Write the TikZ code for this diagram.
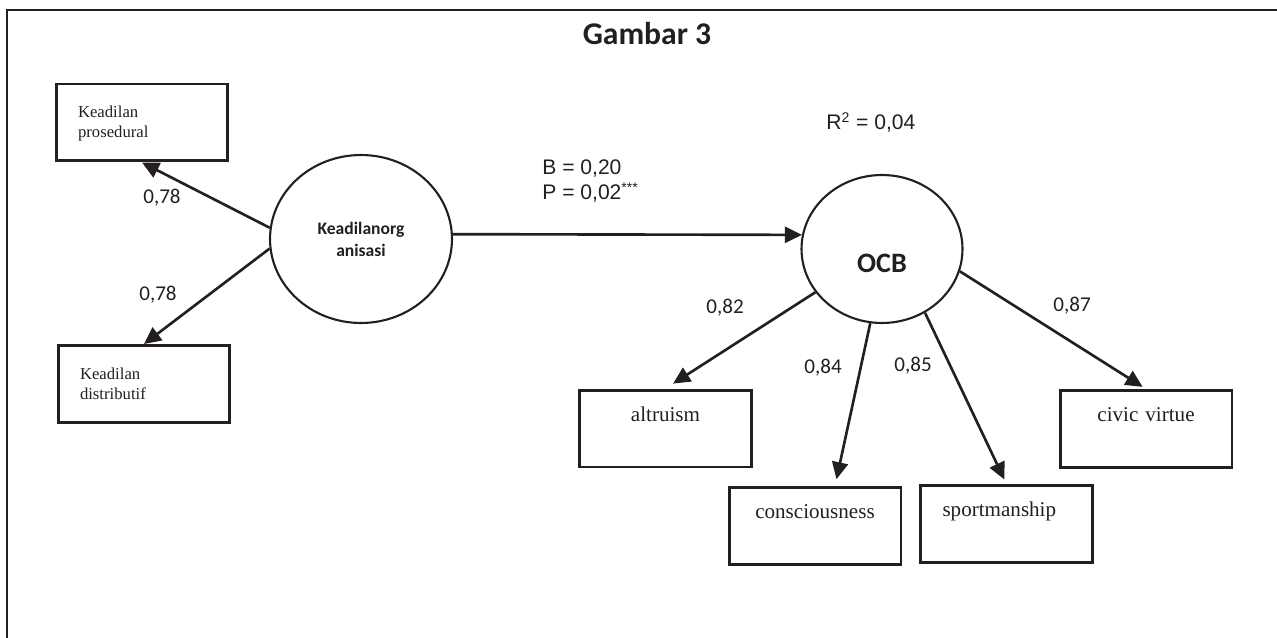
\documentclass[tikz,border=0pt]{standalone}
\usepackage{fontspec}
\setmainfont{Liberation Serif}
\setsansfont{Liberation Sans}
\newfontfamily\calibri{Carlito}
\usepackage{xcolor}
\usepackage{tikz}
\usetikzlibrary{arrows.meta,shapes.geometric}
\definecolor{ink}{HTML}{231F20}

\begin{document}
\begin{tikzpicture}[x=0.02cm, y=-0.02cm, color=ink,
    latent/.style={draw=ink, ellipse, line width=1.2pt, inner sep=0pt},
    indic/.style={draw=ink, rectangle, line width=1.7pt, inner sep=0pt,
      minimum width=3.44cm, text width=2.56cm, align=center,
      text height=0.62cm, text depth=0.92cm,
      font=\fontsize{12}{14}\selectfont},
    dimbox/.style={indic, align=left, text height=0.68cm, text depth=0.86cm,
      font=\fontsize{9.5}{11.3}\selectfont},
    coef/.style={inner sep=0pt, font=\calibri\fontsize{12}{14}\selectfont},
    stat/.style={inner sep=0pt, anchor=base west, font=\sffamily\fontsize{12}{13}\selectfont},
    arr/.style={line width=1.5pt, -{Triangle[length=0.34cm,width=0.32cm]}},
  ]
  \useasboundingbox (0,0) rectangle (1277,638);
  \draw[line width=1.7pt] (1277,10) -- (7,10) -- (7,638);

  \node[font=\calibri\bfseries\fontsize{18}{20}\selectfont] (title) at (647,34) {Gambar 3};

  % latent variables
  \node[latent, minimum width=3.64cm, minimum height=3.36cm, align=center,
    font=\calibri\bfseries\fontsize{10}{12.5}\selectfont] (kor) at (361,239) {Keadilanorg\\anisasi};
  \node[latent, minimum width=3.22cm, minimum height=2.96cm, text height=1.36cm, text depth=0.4cm,
    font=\calibri\bfseries\fontsize{16}{18}\selectfont] (ocb) at (882,249) {OCB};

  % indicators
  \node[dimbox] (pros) at (142,122.5) {Keadilan\\prosedural};
  \node[dimbox] (dist) at (144,384) {Keadilan\\distributif};
  \node[indic] (alt) at (665.5,428.5) {altruism};
  \node[indic] (cons) at (815,526) {consciousness};
  \node[indic, align=left] (sport) at (1006.5,524) {sportmanship};
  \node[indic] (civic) at (1146,429) {civic virtue};

  % paths
  \draw[arr] (kor.173) -- (pros.south);
  \draw[arr] (kor.186) -- (dist.north);
  \draw[arr] (kor.3) -- (ocb.170);
  \draw[arr, shorten >=0.18cm] (ocb.213) -- (alt.north);
  \draw[arr, shorten >=0.14cm] (ocb.261) -- ([xshift=0.4cm]cons.north);
  \draw[arr, shorten >=0.1cm] (ocb.304) -- (sport.north);
  \draw[arr, shorten >=0.08cm] (ocb.344) -- (civic.north);

  % loadings
  \node[coef] (w1) at (162,198) {0,78};
  \node[coef] (w2) at (158,295) {0,78};
  \node[coef] (w3) at (725,308) {0,82};
  \node[coef] (w4) at (823,368) {0,84};
  \node[coef] (w5) at (913,366) {0,85};
  \node[coef] (w6) at (1072,306) {0,87};

  \node[stat, align=left] (beta) at (542,200) {B = 0,20\\[1.5pt]P = 0,02\textsuperscript{***}};
  \node[stat] (rsq) at (826,130) {R\textsuperscript{2} = 0,04};
\end{tikzpicture}
\end{document}
